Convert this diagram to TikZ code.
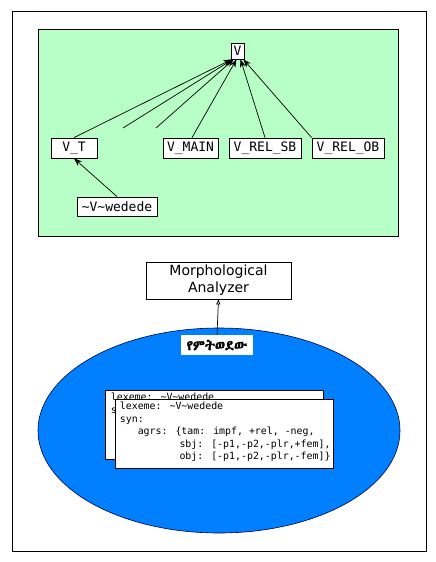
\documentclass[tikz,border=0pt]{standalone}
\usepackage{fontspec}
\usetikzlibrary{arrows.meta}
\setmainfont{DejaVu Sans}
\newfontfamily\monofam{DejaVu Sans Mono}
\newfontfamily\ethfont[FakeBold=2]{Abyssinica SIL}
\definecolor{mint}{RGB}{183,255,199}
\definecolor{skyblue}{RGB}{0,128,255}
\tikzset{
  catbox/.style={draw=black, fill=white, inner sep=0pt, font=\monofam\fontsize{13}{15}\selectfont, line width=0.8pt},
  link/.style={-{Stealth[length=8pt,width=6pt]}, line width=0.7pt},
  card/.style={draw=black, fill=white, line width=0.6pt, minimum width=218pt, minimum height=69pt, inner sep=0pt},
  cardtext/.style={anchor=north west, inner sep=0pt, align=left, font=\monofam\fontsize{9.9}{12.5}\selectfont},
}
\begin{document}
\begin{tikzpicture}[x=1pt,y=-1pt]
\useasboundingbox (0,0) rectangle (436,562);
\fill[white] (0,0) rectangle (436,562);
\draw[line width=1pt] (12,11) rectangle (426,551);
\draw[fill=mint, line width=0.8pt] (38,29) rectangle (398,236);
\node[catbox, minimum width=13pt, minimum height=16pt] (V) at (237.5,51) {V};
\node[catbox, minimum width=46pt, minimum height=20pt] (VT) at (74,148) {V\_T};
\node[catbox, minimum width=55pt, minimum height=20pt] (VMAIN) at (190.5,148) {V\_MAIN};
\node[catbox, minimum width=72pt, minimum height=20pt] (VSB) at (265,148) {V\_REL\_SB};
\node[catbox, minimum width=72pt, minimum height=20pt] (VOB) at (348,148) {V\_REL\_OB};
\node[catbox, minimum width=80pt, minimum height=19pt] (WED) at (117,206.5) {\string~V\string~wedede};
\coordinate (d1) at (123,128);
\coordinate (d2) at (156,128);
\draw[link] (VT.north) -- ([xshift=1pt]V.south west);
\draw[link] (d1) -- ([xshift=2pt]V.south west);
\draw[link] (d2) -- ([xshift=3pt]V.south west);
\draw[link] ([xshift=1.5pt]VMAIN.north) -- ([xshift=-1pt]V.south);
\draw[link] (VSB.north) -- ([xshift=3pt]V.south);
\draw[link] (VOB.north west) -- ([xshift=-1pt]V.south east);
\draw[link] (WED.north) -- (VT.south);
\node[draw=black, fill=white, line width=0.7pt, minimum width=145pt, minimum height=37pt, inner sep=0pt, align=center, font=\fontsize{14}{17}\selectfont] (MA) at (218.5,280.5) {Morphological\\Analyzer};
\draw[fill=skyblue, draw=black!70!blue, line width=0.6pt] (219,430.5) ellipse [x radius=181, y radius=102.5];
\node[fill=white, inner sep=0pt, minimum width=72pt, minimum height=20pt, font=\ethfont\fontsize{14}{16}\selectfont] (AM) at (217,345) {የምትወደው};
\draw[-{Triangle[open,length=5pt,width=4pt]}, line width=0.7pt] (AM.north) -- (MA.south);
\node[card] (back) at (214.5,424.5) {};
\node[cardtext] (backtext) at ([xshift=5.5pt,yshift=-3.2pt]back.north west) {lexeme: \string~V\string~wedede\\syn:};
\node[card] (front) at (224.5,433.5) {};
\node[cardtext] (fronttext) at ([xshift=4.5pt,yshift=-3.2pt]front.north west) {lexeme: \string~V\string~wedede\\syn:\\\ \ \ agrs: \{tam: impf, +rel, -neg,\\\ \ \ \ \ \ \ \ \ \ sbj: [-p1,-p2,-plr,+fem],\\\ \ \ \ \ \ \ \ \ \ obj: [-p1,-p2,-plr,-fem]\}};
\end{tikzpicture}
\end{document}
